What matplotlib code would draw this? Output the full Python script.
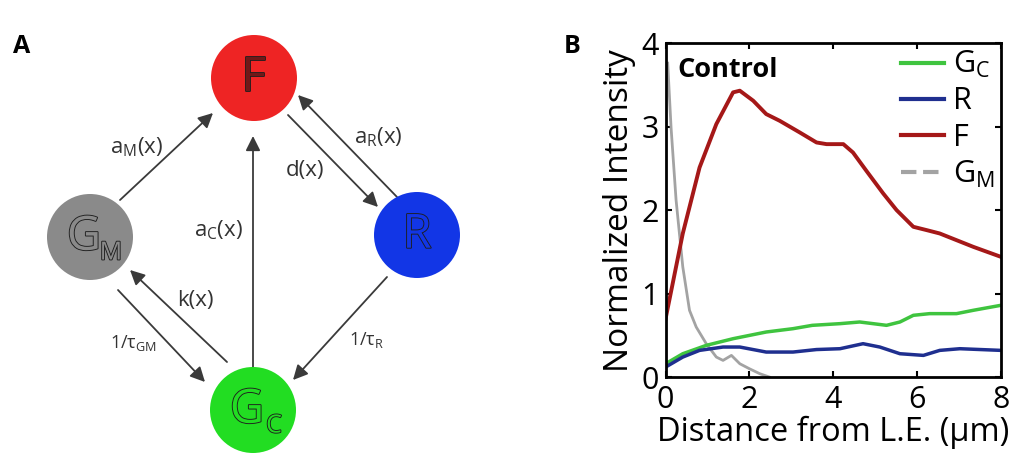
import matplotlib
matplotlib.use("Agg")
import matplotlib.pyplot as plt
import matplotlib.patheffects as pe
from matplotlib.patches import Circle
from matplotlib.lines import Line2D

plt.rcParams["font.family"] = ["Open Sans", "DejaVu Sans"]
plt.rcParams["mathtext.default"] = "regular"

# ---- panel B data ----
f_x = [0.0, 0.41, 0.81, 1.21, 1.61, 1.77, 2.09, 2.40, 2.72, 3.2, 3.6, 3.84, 4.24, 4.47,
       4.79, 5.19, 5.51, 5.91, 6.23, 6.54, 6.94, 7.34, 8.0]
f_y = [0.70, 1.72, 2.51, 3.03, 3.41, 3.43, 3.31, 3.15, 3.07, 2.93, 2.81, 2.79, 2.79, 2.69,
       2.47, 2.20, 2.00, 1.80, 1.76, 1.72, 1.64, 1.56, 1.44]

gc_x = [0.0, 0.41, 0.97, 1.61, 2.4, 3.04, 3.5, 4.16, 4.63, 5.27, 5.59, 5.91, 6.3, 6.94, 7.34, 8.0]
gc_y = [0.16, 0.28, 0.38, 0.46, 0.54, 0.58, 0.62, 0.64, 0.66, 0.62, 0.66, 0.74, 0.76, 0.76, 0.80, 0.86]

r_x = [0.0, 0.41, 0.81, 1.37, 1.77, 2.4, 3.04, 3.6, 4.16, 4.71, 5.11, 5.59, 6.15, 6.54, 7.02, 8.0]
r_y = [0.12, 0.24, 0.32, 0.36, 0.36, 0.30, 0.30, 0.33, 0.34, 0.40, 0.36, 0.28, 0.26, 0.32, 0.34, 0.32]

gm_x = [0.05, 0.13, 0.25, 0.41, 0.57, 0.73, 0.97, 1.21, 1.37, 1.57, 1.77, 2.0, 2.25, 2.48]
gm_y = [3.76, 2.99, 2.12, 1.32, 0.80, 0.60, 0.40, 0.24, 0.20, 0.26, 0.16, 0.10, 0.04, 0.0]

series_labels = ["G$_C$", "R", "F", "G$_M$"]

# ---- panel A diagram ----
node_names = ["F", "G", "R", "G"]
node_subs = ["", "M", "", "C"]
node_colors = ["#ee2424", "#8a8a8a", "#1236e6", "#22dd22"]
node_text = ["#701818", "#8a8a8a", "#1236e6", "#22dd22"]
node_xy = [(254, 78), (90, 237), (417, 235), (253, 410)]

arrows = [((120, 200), (213, 113)), ((253, 367), (253, 136)), ((288, 115), (378, 207)),
          ((397, 197), (298, 95)), ((118, 290), (205, 382)), ((227, 362), (130, 270)),
          ((387, 277), (293, 380))]
rate_labels = ["a$_M$(x)", "a$_C$(x)", "d(x)", "a$_R$(x)", "k(x)", "1/τ$_{GM}$", "1/τ$_R$"]
rate_xy = [(137, 147), (218, 230), (305, 170), (378, 137), (195, 300), (133, 343), (367, 340)]
rate_size = [16, 16, 16, 16, 16, 13, 13]

fig = plt.figure(figsize=(10.24, 4.61), dpi=100)

axA = fig.add_axes([0, 0, 0.5, 1])
axA.set_xlim(0, 512)
axA.set_ylim(461, 0)
axA.set_aspect("equal")
axA.axis("off")

for (p0, p1) in arrows:
    axA.annotate("", xy=p1, xytext=p0,
                 arrowprops=dict(arrowstyle="-|>", color="#3a3a3a", lw=1.3,
                                 mutation_scale=22, shrinkA=0, shrinkB=0))

for name, sub, col, tcol, (cx, cy) in zip(node_names, node_subs, node_colors, node_text, node_xy):
    axA.add_patch(Circle((cx, cy), 43, facecolor=col, edgecolor="none", zorder=3))
    eff = [pe.withStroke(linewidth=1.3, foreground="#1e1e1e")]
    dx = -6 if sub else 0
    axA.text(cx + dx, cy, name, fontsize=34, color=tcol, ha="center", va="center",
             zorder=4, path_effects=eff)
    if sub:
        axA.text(cx + 21, cy + 16, sub, fontsize=18, color=tcol, ha="center",
                 va="center", zorder=4, path_effects=eff)

for lab, (tx, ty), fs in zip(rate_labels, rate_xy, rate_size):
    axA.text(tx, ty, lab, fontsize=fs, color="#333333", ha="center", va="center")

fig.text(0.021, 0.9, "A", fontsize=18, fontweight="bold", ha="center", va="center")

# ---- panel B chart ----
ax = fig.add_axes([0.650, 0.182, 0.3275, 0.7245])
ax.plot(gm_x, gm_y, color="#a3a3a3", lw=2)
ax.plot(gc_x, gc_y, color="#3fc43f", lw=2.5)
ax.plot(r_x, r_y, color="#1f2f8f", lw=2.5)
ax.plot(f_x, f_y, color="#a51818", lw=2.8)

ax.set_xlim(0, 8)
ax.set_ylim(0, 4)
ax.set_xticks([0, 2, 4, 6, 8])
ax.set_yticks([0, 1, 2, 3, 4])
ax.tick_params(direction="in", top=True, right=True, labelsize=22, length=4, width=1.5)
ax.tick_params(axis="x", pad=6)
ax.tick_params(axis="y", pad=5)
for s in ax.spines.values():
    s.set_linewidth(2)
ax.set_xlabel("Distance from L.E. (μm)", fontsize=23.5, labelpad=0)
ax.set_ylabel("Normalized Intensity", fontsize=24, labelpad=4)

ax.text(0.035, 0.92, "Control", transform=ax.transAxes, fontsize=19.5, fontweight="bold",
        ha="left", va="center")

handles = [Line2D([], [], color="#3fc43f", lw=3),
           Line2D([], [], color="#1f2f8f", lw=3),
           Line2D([], [], color="#a51818", lw=3),
           Line2D([], [], color="#a3a3a3", lw=3, ls="--")]
ax.legend(handles, series_labels, loc="upper right", frameon=False, fontsize=22,
          handlelength=1.4, handletextpad=0.3, labelspacing=0.2,
          borderaxespad=0.0, borderpad=0.2)

fig.text(0.559, 0.9, "B", fontsize=18, fontweight="bold", ha="center", va="center")

fig.savefig("out.png", dpi=100)
